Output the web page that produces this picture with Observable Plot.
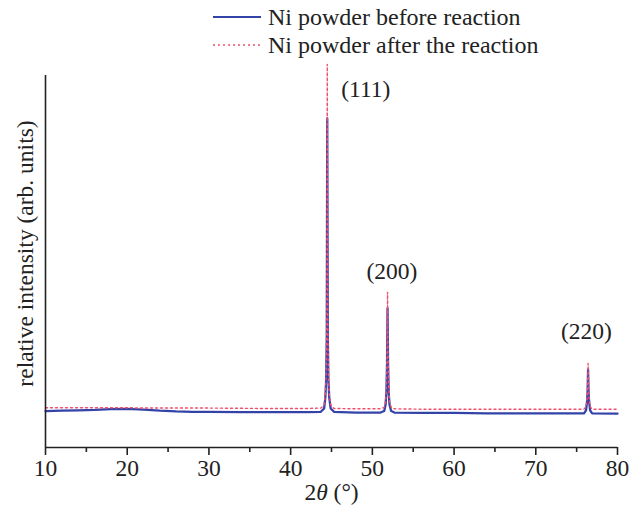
<!DOCTYPE html>
<html>
<head>
<meta charset="utf-8">
<script src="https://cdn.jsdelivr.net/npm/d3@7"></script>
<script src="https://cdn.jsdelivr.net/npm/@observablehq/plot@0.6"></script>
<style>
  html, body { margin: 0; padding: 0; background: #fff; }
  #wrap { position: relative; width: 630px; height: 516px; font-family: "Liberation Serif", "Times New Roman", serif; color: #222; }
  #legend { position: absolute; left: 212px; top: 3px; font-size: 24px; line-height: 28px; }
  #legend .row { display: flex; align-items: center; height: 28px; }
  #legend svg { margin-right: 6px; }
</style>
</head>
<body>
<div id="wrap">
  <div id="chart"></div>
  <div id="legend"></div>
</div>
<script>
// Series names
const seriesNames = ["Ni powder before reaction", "Ni powder after the reaction"];
const seriesColors = ["#3443a8", "#f0506e"];

// 2θ (deg), intensity (arb. units)
const beforePoints = [
  [10,98],[12,99],[14,100],[16,101],[18,103],[20,104],[22,102],[24,99],[26,97],[28,96],[30,96],[34,95],[38,95],[42,95],
  [43.7,96],[44.1,105],[44.25,135],[44.35,185],[44.42,300],[44.48,885],[44.55,300],[44.62,185],[44.72,135],[44.9,105],[45.3,96],
  [48,94],[51,94],[51.45,98],[51.62,115],[51.72,150],[51.8,230],[51.86,374],[51.92,230],[52.0,150],[52.1,115],[52.3,98],[52.7,94],
  [56,93],[60,93],[64,92],[68,92],[72,92],[75.9,92],[76.15,100],[76.28,125],[76.34,150],[76.4,210],[76.46,150],[76.52,125],[76.65,100],[76.9,92],[80,91]
];
const afterPoints = [
  [10,107],[14,107],[18,107],[20,107],[22,106],[26,106],[30,106],[36,105],[42,105],
  [43.7,106],[44.1,115],[44.25,145],[44.35,200],[44.42,330],[44.48,1030],[44.55,330],[44.62,200],[44.72,145],[44.9,115],[45.3,105],
  [48,104],[51,104],[51.45,108],[51.62,125],[51.72,165],[51.8,250],[51.86,417],[51.92,250],[52.0,165],[52.1,125],[52.3,108],[52.7,104],
  [56,103],[60,103],[66,103],[72,103],[75.9,103],[76.15,110],[76.28,135],[76.34,165],[76.4,226],[76.46,165],[76.52,135],[76.65,110],[76.9,103],[80,103]
];

// Peak labels
const peakLabels = ["(111)", "(200)", "(220)"];
const peakLabelX = [49.2, 52.4, 76.2];
const peakLabelY = [962, 474, 312];

// Axis ticks
const majorTicks = [10, 20, 30, 40, 50, 60, 70, 80];
const minorTicks = [15, 25, 35, 45, 55, 65, 75];
const xLabel = "2θ (°)";
const yLabel = "relative intensity (arb. units)";

const before = beforePoints.map(([x, y]) => ({x, y}));
const after = afterPoints.map(([x, y]) => ({x, y}));
const peaks = peakLabels.map((t, i) => ({t, x: peakLabelX[i], y: peakLabelY[i]}));

const font = "'Liberation Serif', 'Times New Roman', serif";

const svg = Plot.plot({
  width: 630,
  height: 516,
  marginTop: 75,
  marginBottom: 69,
  marginLeft: 45,
  marginRight: 13,
  style: {fontFamily: font, fontSize: "23px", color: "#222", background: "#fff"},
  x: {domain: [10, 80]},
  y: {domain: [0, 1000], axis: null},
  marks: [
    Plot.line(before, {x: "x", y: "y", stroke: seriesColors[0], strokeWidth: 2.3, curve: "linear"}),
    Plot.line(after, {x: "x", y: "y", stroke: seriesColors[1], strokeWidth: 1.4, strokeDasharray: "2,3", curve: "linear"}),
    Plot.ruleX([10], {stroke: "#222", strokeWidth: 1.6}),
    Plot.ruleY([0], {stroke: "#222", strokeWidth: 1.6}),
    Plot.axisX({ticks: majorTicks, tickSize: 8, tickPadding: 4, label: null, stroke: "#222", strokeWidth: 1.6, fontSize: 23.5, tickFormat: d => String(d)}),
    Plot.axisX({ticks: minorTicks, tickSize: 5, text: null, label: null, stroke: "#222", strokeWidth: 1.6}),
    Plot.text([xLabel], {frameAnchor: "bottom", dy: 52, fontSize: 23.5, fill: "#222"}),
    Plot.text([yLabel], {frameAnchor: "left", textAnchor: "middle", rotate: -90, dx: -20, dy: -8, fontSize: 23.5, fill: "#222"}),
    Plot.text(peaks, {x: "x", y: "y", text: "t", fontSize: 23.5, fill: "#222"})
  ]
});

// italicize θ in the x label
d3.select(svg).selectAll("text").filter(function() { return this.textContent === xLabel; }).each(function() {
  const t = d3.select(this);
  t.text(null);
  t.append("tspan").text("2");
  t.append("tspan").attr("font-style", "italic").text("θ");
  t.append("tspan").text(" (°)");
});

document.getElementById("chart").appendChild(svg);

// legend
const legend = d3.select("#legend");
seriesNames.forEach((name, i) => {
  const row = legend.append("div").attr("class", "row");
  const s = row.append("svg").attr("width", 50).attr("height", 10);
  s.append("line").attr("x1", 1).attr("x2", 49).attr("y1", 5).attr("y2", 5)
    .attr("stroke", seriesColors[i]).attr("stroke-width", i === 0 ? 2 : 1.4)
    .attr("stroke-dasharray", i === 0 ? null : "2,3");
  row.append("span").text(name);
});
</script>
</body>
</html>
